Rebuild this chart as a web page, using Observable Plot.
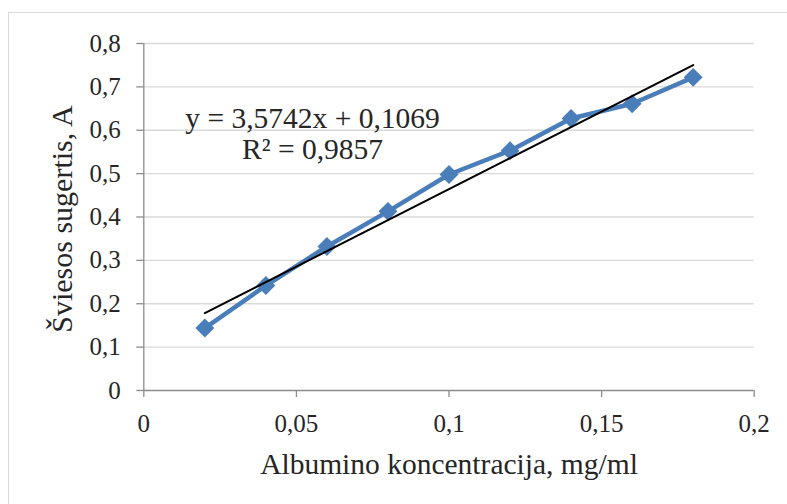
<!DOCTYPE html>
<html><head><meta charset="utf-8">
<script src="https://cdn.jsdelivr.net/npm/d3@7"></script>
<script src="https://cdn.jsdelivr.net/npm/@observablehq/plot@0.6"></script>
<style>
body{margin:0;background:#fff;}
#wrap{position:relative;width:787px;height:504px;overflow:hidden;background:#fff;}
#frame{position:absolute;left:8px;top:12px;width:820px;height:620px;border-left:1.5px solid #d9d9d9;border-top:1.5px solid #d9d9d9;}
#wrap svg{position:absolute;left:0;top:0;}
#wrap svg, #wrap svg text{font-family:"Liberation Serif","Times New Roman",serif !important;}
</style></head><body><div id="wrap"><div id="frame"></div></div>
<script>
// Data
const concentration = [0.02, 0.04, 0.06, 0.08, 0.10, 0.12, 0.14, 0.16, 0.18];
const absorbance    = [0.144, 0.242, 0.332, 0.413, 0.498, 0.553, 0.627, 0.661, 0.722];
const xTicks = [0, 0.05, 0.1, 0.15, 0.2];
const yTicks = [0, 0.1, 0.2, 0.3, 0.4, 0.5, 0.6, 0.7, 0.8];
const slope = 3.5742;
const intercept = 0.1069;
const fitRange = [0.02, 0.18];
const equationText = "y = 3,5742x + 0,1069\nR² = 0,9857";
const equationPos = {x: 0.0553, y: 0.658};
const xTitle = "Albumino koncentracija, mg/ml";
const yTitle = "Šviesos sugertis, A";

const data = concentration.map((c, i) => ({x: c, y: absorbance[i]}));
const fit = fitRange.map(x => ({x, y: slope * x + intercept}));
const fmt = d => d === 0 ? "0" : String(d).replace(".", ",");
const axisColor = "#8c8c8c";
const textColor = "#262626";
const blue = "#4a7ebb";
const serif = "'Liberation Serif', 'Times New Roman', serif";

const chart = Plot.plot({
  width: 787, height: 504,
  marginLeft: 143.3, marginRight: 33.3, marginTop: 43, marginBottom: 114,
  x: {domain: [0, 0.2]},
  y: {domain: [0, 0.8]},
  style: {fontFamily: serif, color: textColor, background: "transparent"},
  marks: [
    Plot.gridY(yTicks.filter(d => d > 0), {stroke: "#d9d9d9", strokeOpacity: 1, strokeWidth: 1.4}),
    Plot.ruleY([0], {stroke: axisColor, strokeWidth: 1.3}),
    Plot.ruleX([0], {stroke: axisColor, strokeWidth: 1.3}),
    Plot.axisY(yTicks, {tickSize: 7, tickPadding: 16, tickFormat: fmt, fontSize: 25, fontFamily: serif, stroke: axisColor, strokeWidth: 1.3, fill: textColor, label: null}),
    Plot.axisX(xTicks, {tickSize: 7, tickPadding: 17, tickFormat: fmt, fontSize: 25, fontFamily: serif, stroke: axisColor, strokeWidth: 1.3, fill: textColor, label: null}),
    Plot.line(data, {x: "x", y: "y", stroke: blue, strokeWidth: 4.5}),
    Plot.dot(data, {x: "x", y: "y", symbol: "diamond2", r: 8.5, fill: blue, stroke: null}),
    Plot.line(fit, {x: "x", y: "y", stroke: "#000", strokeWidth: 2}),
    Plot.text([equationPos], {x: "x", y: "y", text: () => equationText, textAnchor: "middle", lineAnchor: "top", lineHeight: 1.07, fontSize: 29.5, fontFamily: serif, fill: textColor}),
    Plot.text([xTitle], {text: d => d, frameAnchor: "bottom", dy: 73.6, textAnchor: "middle", lineAnchor: "middle", fontSize: 29.5, fontFamily: serif, fill: textColor}),
    Plot.text([yTitle], {text: d => d, frameAnchor: "left", rotate: -90, dx: -81, dy: 2, textAnchor: "middle", lineAnchor: "middle", fontSize: 30, fontFamily: serif, fill: textColor})
  ]
});
document.getElementById("wrap").appendChild(chart);
</script>
</body></html>
